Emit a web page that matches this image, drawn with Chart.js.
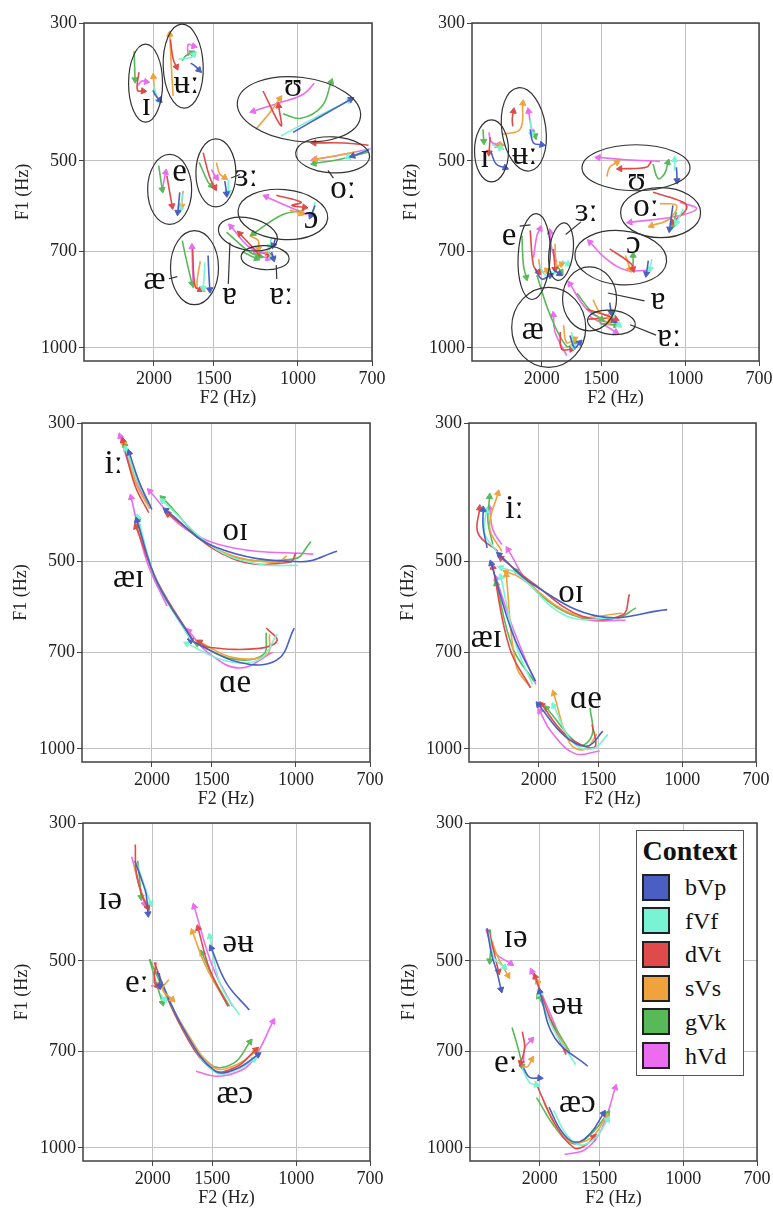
<!DOCTYPE html>
<html lang="en">
<head>
<meta charset="UTF-8">
<title>Vowel formant trajectories by context</title>
<script src="https://cdn.jsdelivr.net/npm/chart.js"></script>
<style>
  body { margin: 0; background: #fff; }
  #page { position: relative; width: 773px; height: 1210px; overflow: hidden; background: #fff; }
  #page canvas { position: absolute; }
  #legend {
    position: absolute; left: 636px; top: 830px; width: 108px; height: 246px;
    box-sizing: border-box; border: 1.5px solid #555; background: #fff;
    font-family: "Liberation Serif", "DejaVu Serif", serif; color: #111;
  }
  #legend .title { position: absolute; left: 0; top: 6px; width: 100%; text-align: center; font-weight: bold; font-size: 28px; line-height: 28px; }
  #legend .row { position: absolute; left: 5px; height: 28px; display: flex; align-items: center; }
  #legend .sw { width: 24px; height: 23px; border: 2px solid #222; }
  #legend .lb { margin-left: 15px; font-size: 24px; line-height: 24px; }
</style>
</head>
<body>
<div id="page">
  <canvas id="pA" width="386" height="420"></canvas>
  <canvas id="pB" width="386" height="420"></canvas>
  <canvas id="pC" width="386" height="420"></canvas>
  <canvas id="pD" width="386" height="420"></canvas>
  <canvas id="pE" width="386" height="420"></canvas>
  <canvas id="pF" width="386" height="420"></canvas>
  <div id="legend"><div class="title">Context</div></div>
</div>
<script>
// contexts and axis ticks
const CONTEXTS = ['bVp', 'fVf', 'dVt', 'sVs', 'gVk', 'hVd'];
const COLORS = ['#4a5fc1', '#78f3d3', '#e04a4a', '#f0a33c', '#58b958', '#ec6cf0'];
const F2_TICKS = [2000, 1500, 1000, 700];
const F1_TICKS = [300, 500, 700, 1000];

// each vowel: one trajectory per context (bVp, fVf, dVt, sVs, gVk, hVd), points are [F2, F1] in Hz

// top left: monophthongs
const A_I = [[[2010,385],[1985,392],[1945,399]], [[2005,378],[1980,390],[1955,400]], [[2150,360],[2165,385],[2105,386]],
  [[1990,392],[1998,380],[2005,366]], [[2200,333],[2195,350],[2190,370]], [[2160,378],[2120,372],[2075,373]]];
const A_U = [[[1676,348],[1640,352],[1610,357]], [[1775,343],[1676,341],[1650,337]], [[1847,319],[1823,343],[1794,353]],
  [[1823,393],[1840,350],[1853,313]], [[1745,345],[1716,339],[1665,335]], [[1696,339],[1696,325],[1650,327]]];
const A_UH = [[[1023,450],[900,425],[775,398]], [[1085,456],[930,428],[780,400]], [[1183,386],[1085,439],[1097,408]],
  [[1225,445],[1150,420],[1091,397]], [[1075,420],[985,427],[890,408],[852,373]], [[924,375],[976,391],[1091,403],[1240,416]]];
const A_O = [[[710,480],[740,486],[768,491]], [[706,478],[745,486],[785,493]], [[712,472],[800,468],[925,468]],
  [[760,484],[850,492],[920,497]], [[712,484],[815,497],[925,505]], [[705,478],[800,488],[925,498]]];
const A_E = [[[1766,562],[1775,585],[1783,605]], [[1742,565],[1750,582],[1760,598]], [[1879,528],[1855,560],[1832,591]],
  [[1737,559],[1745,575],[1750,591]], [[1954,509],[1938,532],[1921,556]], [[1921,556],[1905,538],[1890,522]]];
const A_ER = [[[1422,539],[1415,552],[1410,565]], [[1398,536],[1398,550],[1398,562]], [[1578,485],[1528,532],[1492,552]],
  [[1480,503],[1457,525],[1422,532]], [[1608,503],[1541,541],[1516,548]], [[1516,516],[1500,524],[1480,532]]];
const A_OR = [[[921,590],[930,602],[940,613]], [[921,583],[928,598],[934,610]], [[1109,568],[985,583],[1029,590],[969,594]],
  [[1040,600],[1010,604],[985,608]], [[969,601],[1075,610],[1240,655]], [[955,610],[1060,590],[1165,571]]];
const A_A = [[[1115,668],[1120,676],[1125,684]], [[1135,663],[1140,675],[1145,688]], [[1200,712],[1225,698],[1322,655]],
  [[1262,660],[1210,672],[1210,693]], [[1410,651],[1262,701],[1200,712]], [[1165,705],[1260,690],[1380,638]]];
const A_AA = [[[1135,701],[1130,710],[1125,718]], [[1155,698],[1145,708],[1135,716]], [[1210,701],[1175,705],[1145,710]],
  [[1200,698],[1180,702],[1155,706]], [[1303,701],[1260,710],[1220,718]], [[1240,701],[1200,710],[1155,718]]];
const A_AE = [[[1541,710],[1535,760],[1528,806]], [[1565,728],[1570,765],[1578,802]], [[1660,693],[1640,797],[1600,806]],
  [[1600,725],[1625,797],[1585,806]], [[1745,672],[1705,730],[1665,788]], [[1655,802],[1660,745],[1665,688]]];

// top right: monophthongs
const B_I = [[[2556,483],[2492,506],[2385,513]], [[2543,471],[2490,474],[2435,477]], [[2566,458],[2572,472],[2579,485]],
  [[2513,468],[2470,470],[2435,471]], [[2655,445],[2650,455],[2645,465]], [[2579,450],[2556,465],[2470,473]]];
const B_U = [[[2114,445],[2080,468],[1998,471]], [[2114,430],[2105,442],[2097,453]], [[2300,440],[2305,428],[2292,416]],
  [[2423,453],[2220,445],[2190,404]], [[2080,445],[2072,450],[2064,456]], [[2047,462],[2097,445],[2131,416]]];
const B_UH = [[[1043,512],[1041,525],[1040,538]], [[1052,519],[1052,508],[1052,498]], [[1177,501],[1206,512],[1370,515]],
  [[1460,530],[1440,512],[1390,503]], [[1168,506],[1139,534],[1104,524],[1087,503]], [[1130,501],[1330,498],[1521,494]]];
const B_O = [[[1061,590],[1070,617],[1078,644]], [[1009,597],[1025,612],[1043,628]], [[1168,562],[1009,583],[993,597],[1061,628]],
  [[1130,586],[1043,590],[1078,620],[1177,636]], [[1043,605],[1052,620],[1061,636]], [[1026,583],[946,597],[1043,614],[1305,628]]];
const B_E = [[[2064,747],[1998,775],[1919,764]], [[2015,738],[1966,764],[1903,760]], [[2114,647],[2080,738],[2031,755]],
  [[2031,720],[1998,755],[1950,750]], [[2200,660],[2183,738],[2154,770]], [[2080,716],[2047,660],[2015,643]]];
const B_ER = [[[1890,747],[1860,755],[1835,760]], [[1815,724],[1790,728],[1760,733]], [[1890,693],[1882,720],[1875,747]],
  [[1875,680],[1859,738],[1815,733]], [[1860,738],[1840,745],[1820,755]], [[1859,728],[1904,693],[1920,651]]];
const B_OR = [[[1195,724],[1200,742],[1206,760]], [[1175,720],[1180,733],[1185,747]], [[1440,693],[1296,733],[1286,747]],
  [[1335,710],[1320,728],[1305,747]], [[1286,740],[1286,725],[1286,710]], [[1206,750],[1329,750],[1462,720],[1584,676]]];
const B_A = [[[1440,846],[1435,860],[1430,876]], [[1440,856],[1430,870],[1419,885]], [[1610,866],[1440,890],[1398,899]],
  [[1560,836],[1511,876],[1440,890]], [[1686,817],[1571,876],[1497,899]], [[1462,909],[1610,866],[1745,789]]];
const B_AA = [[[1462,885],[1435,895],[1408,904]], [[1419,899],[1398,910],[1377,919]], [[1597,899],[1500,897],[1419,894]],
  [[1535,904],[1490,907],[1440,909]], [[1511,914],[1450,917],[1398,919]], [[1584,890],[1490,915],[1398,943]]];
const B_AE = [[[1745,955],[1705,1000],[1665,981]], [[1730,943],[1725,970],[1717,995]], [[1829,943],[1815,1005],[1730,1005]],
  [[1800,919],[1772,981],[1705,967]], [[2047,764],[1920,885],[1772,995],[1705,981]], [[1772,1029],[1875,943],[1890,885]]];

// middle left: closing diphthongs
const C_IY = [[[2000,413],[2120,375],[2230,335]], [[2005,410],[2140,372],[2270,330]], [[2030,418],[2170,378],[2300,320]],
  [[2020,412],[2160,375],[2290,322]], [[2015,408],[2150,370],[2280,325]], [[2040,405],[2190,365],[2330,315]]];
const C_OI = [[[820,482],[980,501],[1470,475],[1870,414]], [[990,508],[1200,505],[1470,478],[1900,400]],
  [[1000,485],[1030,502],[1350,496],[1850,420]], [[1045,490],[1100,503],[1450,480],[1860,418]],
  [[930,465],[1010,496],[1450,482],[1900,396]], [[920,487],[1350,476],[1720,441],[2020,386]]];
const C_AI = [[[1640,672],[1950,540],[2150,430]], [[1660,668],[1960,535],[2140,425]], [[1630,675],[1945,540],[2160,440]],
  [[1650,670],[1955,538],[2150,435]], [[1665,665],[1965,535],[2145,428]], [[1860,590],[2050,500],[2210,395]]];
const C_AE = [[[1008,640],[1095,720],[1310,727],[1660,670]], [[1095,655],[1190,718],[1395,723],[1690,678]],
  [[1153,640],[1095,670],[1190,690],[1530,687],[1590,674]], [[1135,655],[1150,706],[1350,714],[1590,674]],
  [[1153,651],[1170,706],[1350,718],[1610,678]], [[1118,700],[1310,742],[1530,700],[1675,647]]];

// middle right: closing diphthongs
const D_IY = [[[2565,476],[2615,441],[2615,413]], [[2455,482],[2595,451],[2575,415]], [[2435,482],[2680,451],[2660,411]],
  [[2390,482],[2535,441],[2435,389]], [[2495,470],[2555,432],[2535,394]], [[2390,470],[2495,445],[2535,411]]];
const D_OI = [[[1075,598],[1495,613],[2055,545],[2420,488]], [[1370,617],[1750,612],[2230,522],[2400,512]],
  [[1290,565],[1335,610],[1620,613],[2055,542],[2400,494]], [[1335,606],[1680,610],[2200,530],[2340,520]],
  [[1250,594],[1375,617],[1755,604],[2230,518]], [[1315,622],[1620,617],[2055,552],[2320,479]]];
const D_AI = [[[2030,779],[2265,655],[2515,504]], [[2060,788],[2230,682],[2400,530]], [[2080,798],[2300,690],[2495,511]],
  [[2080,798],[2230,735],[2340,526]], [[2045,779],[2265,690],[2455,543]], [[2027,788],[2265,640],[2455,533]]];
const D_AE = [[[1467,937],[1580,990],[1760,955],[2003,849]], [[1432,948],[1540,1000],[1700,975],[1860,853]],
  [[1545,914],[1520,990],[1600,992],[1780,940],[1970,849]], [[1510,948],[1600,1002],[1720,980],[1860,815]],
  [[1560,860],[1545,950],[1640,985],[1926,860]], [[1490,1008],[1680,1018],[1880,940],[1990,870]]];

// bottom left: centring diphthongs and long vowels
const E_IA = [[[2180,345],[2110,370],[2065,390],[2045,420]], [[2155,350],[2090,375],[2020,404]],
  [[2175,325],[2165,360],[2110,390],[2050,410]], [[2190,350],[2120,385],[2045,410]],
  [[2150,345],[2130,370],[2115,395]], [[2213,340],[2150,370],[2080,405]]];
const E_OU = [[[1254,600],[1400,543],[1507,477]], [[1316,611],[1446,543],[1517,457]], [[1390,592],[1517,517],[1606,443]],
  [[1400,585],[1546,511],[1650,449]], [[1380,592],[1497,530],[1576,486]], [[1360,592],[1497,511],[1637,409]]];
const E_EE = [[[1937,523],[1933,536],[1930,549]], [[1920,566],[1905,572],[1890,577]], [[1968,503],[1985,541],[1952,549]],
  [[1850,536],[1907,556],[1818,577]], [[2031,497],[1968,541],[1907,584]], [[2015,549],[1985,548],[1955,546]]];
const E_AO = [[[1960,520],[1720,645],[1480,752],[1330,745],[1202,708]], [[1940,530],[1710,650],[1480,755],[1330,748],[1225,720]],
  [[1985,503],[1760,630],[1500,748],[1340,742],[1215,695]], [[1930,545],[1700,650],[1490,742],[1350,738],[1215,700]],
  [[2031,497],[1760,625],[1510,735],[1350,730],[1250,675]], [[1621,753],[1474,767],[1330,755],[1235,725],[1118,626]]];

// bottom right: centring diphthongs and long vowels
const F_IA = [[[2580,443],[2520,490],[2460,520],[2410,556]], [[2560,450],[2490,495],[2370,512]],
  [[2560,445],[2500,480],[2440,520]], [[2530,460],[2450,492],[2330,528]],
  [[2540,445],[2530,470],[2545,500]], [[2593,445],[2480,485],[2300,505]]];
const F_OU = [[[1586,739],[1860,665],[2000,560]], [[1680,735],[1880,640],[2000,565]], [[1760,708],[1900,620],[2044,530]],
  [[1745,700],[1910,620],[2020,540]], [[1730,700],[1910,615],[2010,570]], [[1760,705],[1880,620],[2077,520]]];
const F_EE = [[[2160,745],[2100,770],[2000,772]], [[2175,745],[2100,785],[2030,792]], [[2175,650],[2150,690],[2190,730]],
  [[2175,740],[2120,740],[2077,720]], [[2285,640],[2210,700],[2175,740]], [[2160,730],[2150,690],[2080,670]]];
const F_AO = [[[1912,860],[1800,940],[1680,980],[1560,945],[1470,880]], [[1870,870],[1760,950],[1640,990],[1520,960],[1440,900]],
  [[2044,782],[1850,920],[1690,1001],[1600,990],[1540,960]], [[1960,845],[1830,935],[1700,980],[1550,960],[1450,890]],
  [[2030,830],[1850,930],[1700,985],[1560,950],[1440,880]], [[1773,1025],[1600,1005],[1480,930],[1388,800]]];

// vowel symbols, ellipses [F2, F1, rx px, ry px, deg] and leader lines
const NOTES_A = {
  labels: [['ɪ',2074,409],['ʉː',1711,376],['ʊ',1024,381],['oː',805,555],['e',1767,521],['ɜː',1282,531],
           ['ɔ',938,621],['ɐ',1389,824],['ɐː',1083,824],['æ',1993,780]],
  ellipses: [[2082,375,17,39,0],[1737,352,20,42,-2],[995,413,62,32,7],[846,489,37,18,3],[1854,556,22,35,0],
             [1484,523,20,34,0],[1075,610,45,25,5],[1272,656,30,16,12],[1171,716,24,12,3],[1645,743,24,37,0]],
  leaders: [[1387,677,1398,789],[1110,736,1107,775],[865,518,843,533],[1379,533,1323,526],[1861,774,1787,768]]
};
const NOTES_B = {
  labels: [['ɪ',2632,496],['ʉː',2172,490],['ʊ',1264,539],['oː',1208,594],['ɜː',1613,606],['e',2340,662],
           ['ɔ',1284,681],['ɐ',1140,839],['ɐː',1080,961],['æ',2087,938]],
  ellipses: [[2548,482,17,31,0],[2180,445,22,42,-8],[1268,513,54,23,0],[1126,606,40,25,0],[2074,713,16,43,3],
             [1821,700,12,29,7],[1365,716,46,27,5],[1587,834,27,32,0],[1428,910,24,12,6],[1933,927,37,40,0]],
  leaders: [[2224,637,2111,634],[1781,657,1654,627],[1453,816,1217,840],[1304,918,1151,954]]
};
const NOTES_C = { labels: [['iː',2404,350],['oɪ',1339,448],['æɪ',2237,532],['ɑe',1339,784]], ellipses: [], leaders: [] };
const NOTES_D = { labels: [['iː',2248,413],['oɪ',1711,562],['æɪ',2576,664],['ɑe',1592,834]], ellipses: [], leaders: [] };
const NOTES_E = { labels: [['ɪə',2455,399],['əʉ',1324,469],['eː',2159,543],['æɔ',1345,821]], ellipses: [], leaders: [] };
const NOTES_F = { labels: [['ɪə',2246,460],['əʉ',1750,589],['eː',2355,730],['æɔ',1668,847]], ellipses: [], leaders: [] };

const SERIF = '"Liberation Serif", "DejaVu Serif", serif';

const panels = [
  { id: 'pA', rect: [84, 23, 288, 338], vowels: [A_I, A_U, A_UH, A_O, A_E, A_ER, A_OR, A_A, A_AA, A_AE], notes: NOTES_A },
  { id: 'pB', rect: [472, 23, 287, 338], vowels: [B_I, B_U, B_UH, B_O, B_E, B_ER, B_OR, B_A, B_AA, B_AE], notes: NOTES_B },
  { id: 'pC', rect: [82, 423, 288, 339], vowels: [C_IY, C_OI, C_AI, C_AE], notes: NOTES_C },
  { id: 'pD', rect: [469, 423, 287, 339], vowels: [D_IY, D_OI, D_AI, D_AE], notes: NOTES_D },
  { id: 'pE', rect: [83, 823, 287, 338], vowels: [E_IA, E_OU, E_EE, E_AO], notes: NOTES_E },
  { id: 'pF', rect: [470, 823, 287, 338], vowels: [F_IA, F_OU, F_EE, F_AO], notes: NOTES_F }
];

// frame round the plot, then ellipses, leader lines and vowel symbols on top
const framePlugin = {
  id: 'frame',
  beforeDatasetsDraw(chart) {
    const { ctx, chartArea: a } = chart;
    ctx.save();
    ctx.strokeStyle = '#404040';
    ctx.lineWidth = 1.5;
    ctx.strokeRect(a.left, a.top, a.right - a.left, a.bottom - a.top);
    ctx.restore();
  },
  afterDatasetsDraw(chart, args, opts) {
    const { ctx } = chart;
    const sx = chart.scales.x, sy = chart.scales.y;
    const n = opts.notes;
    ctx.save();
    ctx.strokeStyle = '#333';
    ctx.lineWidth = 1.2;
    n.ellipses.forEach(e => {
      ctx.beginPath();
      ctx.ellipse(sx.getPixelForValue(e[0]), sy.getPixelForValue(e[1]), e[2], e[3], e[4] * Math.PI / 180, 0, Math.PI * 2);
      ctx.stroke();
    });
    n.leaders.forEach(l => {
      ctx.beginPath();
      ctx.moveTo(sx.getPixelForValue(l[0]), sy.getPixelForValue(l[1]));
      ctx.lineTo(sx.getPixelForValue(l[2]), sy.getPixelForValue(l[3]));
      ctx.stroke();
    });
    ctx.fillStyle = '#111';
    ctx.font = '33px ' + SERIF;
    ctx.textAlign = 'center';
    ctx.textBaseline = 'middle';
    n.labels.forEach(t => ctx.fillText(t[0], sx.getPixelForValue(t[1]), sy.getPixelForValue(t[2])));
    ctx.restore();
  }
};

function arrowAngle(c) {
  const d = c.dataset.data, i = c.dataIndex;
  if (i < 1) return 0;
  const sx = c.chart.scales.x, sy = c.chart.scales.y;
  const dx = sx.getPixelForValue(d[i].x) - sx.getPixelForValue(d[i - 1].x);
  const dy = sy.getPixelForValue(d[i].y) - sy.getPixelForValue(d[i - 1].y);
  return Math.atan2(dx, -dy) * 180 / Math.PI;
}

panels.forEach(p => {
  const canvas = document.getElementById(p.id);
  const [left, top, w, h] = p.rect;
  canvas.style.left = (left - 84) + 'px';
  canvas.style.top = (top - 23) + 'px';

  const datasets = [];
  p.vowels.forEach(v => v.forEach((curve, i) => {
    datasets.push({
      label: CONTEXTS[i],
      data: curve.map(pt => ({ x: pt[0], y: pt[1] })),
      showLine: true,
      borderColor: COLORS[i],
      backgroundColor: COLORS[i],
      borderWidth: 1.6,
      tension: 0.4,
      pointStyle: 'triangle',
      pointRadius: c => c.dataIndex === c.dataset.data.length - 1 ? 3.6 : 0,
      pointRotation: arrowAngle,
      pointBorderWidth: 1
    });
  }));

  new Chart(canvas, {
    type: 'scatter',
    data: { datasets },
    options: {
      responsive: false,
      animation: false,
      events: [],
      layout: { autoPadding: false, padding: { left: 12, top: 23, right: 386 - 84 - w, bottom: 420 - 23 - h - 48 } },
      plugins: { legend: { display: false }, tooltip: { enabled: false }, frame: { notes: p.notes } },
      scales: {
        x: {
          type: 'logarithmic', min: 700, max: 2800, reverse: true,
          afterBuildTicks: s => { s.ticks = F2_TICKS.map(v => ({ value: v })); },
          afterFit: s => { s.height = 48; s.paddingLeft = 0; s.paddingRight = 0; },
          ticks: { callback: v => String(v), autoSkip: false, maxRotation: 0, padding: 2, color: '#222', font: { family: SERIF, size: 18 } },
          grid: { color: '#c2c2c2', lineWidth: 1, tickLength: 5, tickColor: '#444' },
          border: { display: false },
          title: { display: true, text: 'F2 (Hz)', color: '#222', padding: 0, font: { family: SERIF, size: 18 } }
        },
        y: {
          type: 'logarithmic', min: 300, max: 1050, reverse: true,
          afterBuildTicks: s => { s.ticks = F1_TICKS.map(v => ({ value: v })); },
          afterFit: s => { s.width = 72; s.paddingTop = 0; s.paddingBottom = 0; },
          ticks: { callback: v => String(v), autoSkip: false, padding: 2, color: '#222', font: { family: SERIF, size: 18 } },
          grid: { color: '#c2c2c2', lineWidth: 1, tickLength: 5, tickColor: '#444' },
          border: { display: false },
          title: { display: true, text: 'F1 (Hz)', color: '#222', padding: 0, font: { family: SERIF, size: 18 } }
        }
      }
    },
    plugins: [framePlugin]
  });
});

// legend for the contexts
const legend = document.getElementById('legend');
CONTEXTS.forEach((name, i) => {
  const row = document.createElement('div');
  row.className = 'row';
  row.style.top = (42 + i * 33.7) + 'px';
  row.innerHTML = '<span class="sw" style="background:' + COLORS[i] + '"></span><span class="lb">' + name + '</span>';
  legend.appendChild(row);
});
</script>
</body>
</html>
